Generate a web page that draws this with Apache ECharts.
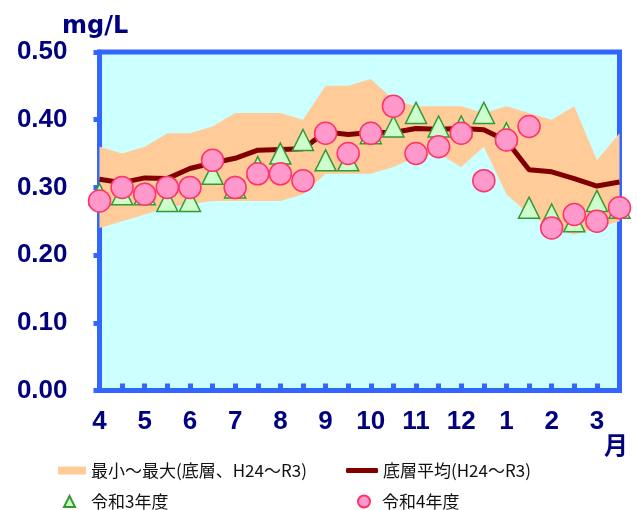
<!DOCTYPE html>
<html>
<head>
<meta charset="utf-8">
<script src="https://cdn.jsdelivr.net/npm/echarts@6/dist/echarts.min.js"></script>
<style>
  html, body { margin: 0; padding: 0; background: #fff; }
  #chart { width: 637px; height: 510px; }
</style>
</head>
<body>
<div id="chart"></div>
<script>
// Half-month steps from April to March (month number on the first half only)
const periods = ['4','', '5','', '6','', '7','', '8','', '9','', '10','', '11','', '12','', '1','', '2','', '3',''];

// Bottom-layer range H24–R3 (mg/L)
const bandMax = [0.36, 0.35, 0.36, 0.38, 0.38, 0.39, 0.41, 0.41, 0.41, 0.40, 0.45, 0.45,
                 0.46, 0.43, 0.42, 0.42, 0.42, 0.41, 0.42, 0.41, 0.40, 0.42, 0.34, 0.38];
const bandMin = [0.24, 0.25, 0.26, 0.27, 0.275, 0.28, 0.28, 0.28, 0.28, 0.29, 0.32, 0.32,
                 0.32, 0.33, 0.345, 0.35, 0.33, 0.36, 0.29, 0.26, 0.24, 0.23, 0.24, 0.25];

// Bottom-layer average H24–R3
const bandMean = [0.312, 0.307, 0.314, 0.313, 0.328, 0.336, 0.343, 0.355, 0.356, 0.357, 0.382, 0.378,
                  0.381, 0.381, 0.387, 0.386, 0.387, 0.385, 0.369, 0.326, 0.323, 0.313, 0.302, 0.308];

// Fiscal year R3 and R4
const fyR3 = [0.29, 0.29, 0.29, 0.28, 0.28, 0.32, 0.30, 0.33, 0.35, 0.37, 0.34, 0.34,
              0.38, 0.39, 0.41, 0.39, 0.39, 0.41, 0.38, 0.27, 0.26, 0.25, 0.28, 0.27];
const fyR4 = [0.28, 0.30, 0.29, 0.30, 0.30, 0.34, 0.30, 0.32, 0.32, 0.31, 0.38, 0.35,
              0.38, 0.42, 0.35, 0.36, 0.38, 0.31, 0.37, 0.39, 0.24, 0.26, 0.25, 0.27];

const yTicks = [0, 0.1, 0.2, 0.3, 0.4, 0.5];

const NAME_RANGE = '最小～最大(底層、H24～R3)';
const NAME_MEAN = '底層平均(H24～R3)';
const NAME_R3 = '令和3年度';
const NAME_R4 = '令和4年度';

const NAVY = '#000080';
const AXIS_BLUE = '#3366FF';
const numFont = '"Liberation Sans", Arial, sans-serif';
const jpFont = '"Noto Sans CJK JP", sans-serif';

const bandSpan = bandMax.map((v, i) => +(v - bandMin[i]).toFixed(4));

const legendText = { fontFamily: jpFont, fontSize: 17, color: '#111' };

const chart = echarts.init(document.getElementById('chart'), null, { renderer: 'canvas' });
chart.setOption({
  animation: false,
  title: {
    text: 'mg/L', left: 57, top: 10,
    textStyle: { fontFamily: '"DejaVu Sans", sans-serif', fontSize: 24, fontWeight: 'bold', color: NAVY }
  },
  grid: {
    left: 99.5, right: 17.5, top: 52, bottom: 119.5,
    show: true, backgroundColor: '#CCFFFF', borderColor: AXIS_BLUE, borderWidth: 5
  },
  legend: [
    { data: [NAME_RANGE], left: 53, top: 457, icon: 'rect', itemWidth: 28, itemHeight: 8,
      textStyle: legendText },
    { data: [NAME_MEAN], left: 341, top: 457, icon: 'roundRect', itemWidth: 32, itemHeight: 5,
      textStyle: legendText },
    { data: [NAME_R3], left: 58, top: 488, icon: 'triangle', itemWidth: 11, itemHeight: 11,
      textStyle: Object.assign({}, legendText, { padding: [0, 0, 0, 11] }) },
    { data: [NAME_R4], left: 352, top: 488, icon: 'circle', itemWidth: 12, itemHeight: 12,
      textStyle: Object.assign({}, legendText, { padding: [0, 0, 0, 7] }) }
  ],
  xAxis: {
    type: 'category', data: periods, boundaryGap: false,
    axisLine: { lineStyle: { color: AXIS_BLUE, width: 5 } },
    axisTick: { inside: true, length: 7, interval: 0, lineStyle: { color: AXIS_BLUE, width: 5 } },
    axisLabel: { interval: 0, margin: 18, fontFamily: numFont, fontSize: 26, fontWeight: 'bold', color: NAVY },
    splitLine: { show: false }
  },
  yAxis: {
    type: 'value', min: yTicks[0], max: yTicks[yTicks.length - 1], interval: 0.1,
    axisLine: { show: true, lineStyle: { color: AXIS_BLUE, width: 5 } },
    axisTick: { show: true, length: 6, lineStyle: { color: AXIS_BLUE, width: 5 } },
    axisLabel: { margin: 32, fontFamily: numFont, fontSize: 26, fontWeight: 'bold', color: NAVY,
                 formatter: v => v.toFixed(2) },
    splitLine: { show: false }
  },
  graphic: [{
    type: 'text', left: 604, top: 433,
    style: { text: '月', font: 'bold 24px "Noto Sans CJK JP", sans-serif', fill: NAVY }
  }],
  series: [
    { name: 'base', type: 'line', stack: 'range', data: bandMin, symbol: 'none',
      lineStyle: { opacity: 0 }, silent: true, z: 1 },
    { name: NAME_RANGE, type: 'line', stack: 'range', data: bandSpan, symbol: 'none', z: 1,
      color: '#FFCC99', lineStyle: { opacity: 0 }, areaStyle: { color: '#FFCC99', opacity: 1 } },
    { name: NAME_MEAN, type: 'line', data: bandMean, symbol: 'none', color: '#800000', z: 2,
      lineStyle: { color: '#800000', width: 5 } },
    { name: NAME_R3, type: 'scatter', data: fyR3, symbol: 'triangle', symbolSize: [21, 21], z: 3,
      itemStyle: { color: '#CCFFCC', borderColor: '#339933', borderWidth: 1.5, opacity: 1 } },
    { name: NAME_R4, type: 'scatter', data: fyR4, symbol: 'circle', symbolSize: 22, z: 4,
      itemStyle: { color: '#FF99CC', borderColor: '#FF3366', borderWidth: 1.5, opacity: 1 } }
  ]
});
</script>
</body>
</html>
